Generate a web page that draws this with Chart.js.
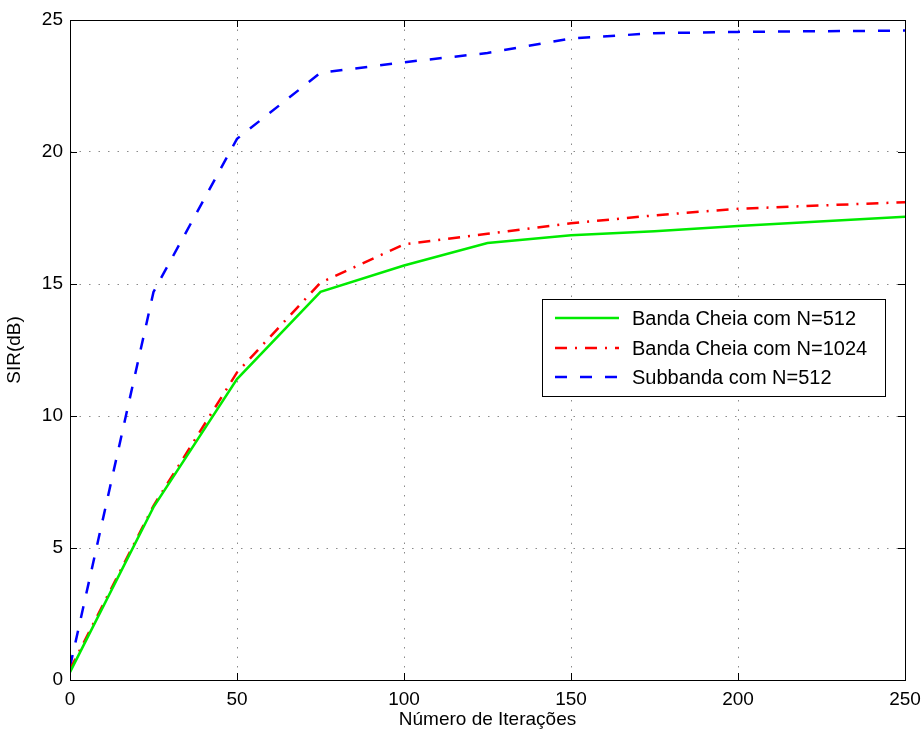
<!DOCTYPE html>
<html>
<head>
<meta charset="utf-8">
<script src="https://cdn.jsdelivr.net/npm/chart.js@4.4.0/dist/chart.umd.min.js"></script>
<style>
  html, body { margin: 0; padding: 0; background: #fff; }
  #wrap { width: 924px; height: 733px; }
</style>
</head>
<body>
<div id="wrap"><canvas id="grafico" width="924" height="733"></canvas></div>
<script>
// dados
const iteracoes = [0, 25, 50, 75, 100, 125, 150, 175, 200, 250];
const cheia512 = [0.3, 6.55, 11.4, 14.7, 15.7, 16.55, 16.85, 17.0, 17.2, 17.55];
const cheia1024 = [0.4, 6.6, 11.65, 15.05, 16.5, 16.9, 17.3, 17.6, 17.85, 18.1];
const subbanda512 = [0.5, 14.7, 20.5, 23.0, 23.4, 23.75, 24.3, 24.5, 24.55, 24.6];
const rotulos = ['Banda Cheia com N=512', 'Banda Cheia com N=1024', 'Subbanda com N=512'];

const fonte = 'Liberation Sans, Arial, Helvetica, sans-serif';

function pontos(ys) {
    return iteracoes.map((x, i) => ({ x: x, y: ys[i] }));
}

// caixa, marcas internas e legenda no estilo MATLAB
const estiloMatlab = {
    id: 'estiloMatlab',
    afterDraw(chart) {
        const c = chart.ctx;
        const a = chart.chartArea;
        const sx = chart.scales.x, sy = chart.scales.y;
        c.save();
        c.strokeStyle = '#000';
        c.lineWidth = 1;
        c.strokeRect(a.left + 0.5, a.top + 0.5, a.right - a.left, a.bottom - a.top);
        const tl = 7;
        c.beginPath();
        sx.ticks.forEach(t => {
            const px = Math.round(sx.getPixelForValue(t.value)) + 0.5;
            c.moveTo(px, a.bottom); c.lineTo(px, a.bottom - tl);
            c.moveTo(px, a.top); c.lineTo(px, a.top + tl);
        });
        sy.ticks.forEach(t => {
            const py = Math.round(sy.getPixelForValue(t.value)) + 0.5;
            c.moveTo(a.left, py); c.lineTo(a.left + tl, py);
            c.moveTo(a.right, py); c.lineTo(a.right - tl, py);
        });
        c.stroke();

        // legenda
        const bx = 542, by = 299, bw = 343, bh = 97;
        c.fillStyle = '#fff';
        c.fillRect(bx, by, bw, bh);
        c.strokeRect(bx + 0.5, by + 0.5, bw, bh);
        const linhas = [318, 348, 377];
        chart.data.datasets.forEach((ds, i) => {
            c.beginPath();
            c.strokeStyle = ds.borderColor;
            c.lineWidth = ds.borderWidth;
            c.setLineDash(ds.borderDash || []);
            c.moveTo(555, linhas[i]);
            c.lineTo(619, linhas[i]);
            c.stroke();
            c.setLineDash([]);
            c.fillStyle = '#000';
            c.font = '20px ' + fonte;
            c.textBaseline = 'middle';
            c.textAlign = 'left';
            c.fillText(ds.label, 632, linhas[i] + 1);
        });
        c.restore();
    }
};

new Chart(document.getElementById('grafico'), {
    type: 'line',
    data: {
        datasets: [{
            label: rotulos[0],
            data: pontos(cheia512),
            borderColor: 'rgb(0,235,0)',
            borderWidth: 2.5,
            pointRadius: 0,
            fill: false,
        }, {
            label: rotulos[1],
            data: pontos(cheia1024),
            borderColor: 'rgb(255,0,0)',
            borderWidth: 2.5,
            borderDash: [12, 8, 2, 8],
            pointRadius: 0,
            fill: false,
        }, {
            label: rotulos[2],
            data: pontos(subbanda512),
            borderColor: 'rgb(0,0,255)',
            borderWidth: 2.5,
            borderDash: [12, 13],
            pointRadius: 0,
            fill: false,
        }]
    },
    options: {
        responsive: false,
        animation: false,
        layout: { padding: { top: 20, right: 19, left: 0, bottom: 0 } },
        plugins: {
            legend: { display: false },
            tooltip: { enabled: false },
        },
        scales: {
            x: {
                type: 'linear',
                min: 0,
                max: 250,
                afterFit(s) { s.height = 53; s.paddingLeft = 0; s.paddingRight = 0; },
                ticks: { stepSize: 50, padding: 8, color: '#000', font: { family: fonte, size: 19 } },
                grid: { color: '#8a8a8a', drawTicks: false, lineWidth: 1 },
                border: { display: false, dash: [1.5, 8] },
                title: {
                    display: true,
                    text: 'Número de Iterações',
                    color: '#000',
                    font: { family: fonte, size: 19 },
                    padding: { top: 0, bottom: 2 },
                },
            },
            y: {
                min: 0,
                max: 25,
                afterFit(s) { s.width = 70; s.paddingTop = 0; s.paddingBottom = 0; },
                ticks: { stepSize: 5, padding: 7, color: '#000', font: { family: fonte, size: 19 } },
                grid: { color: '#8a8a8a', drawTicks: false, lineWidth: 1 },
                border: { display: false, dash: [1.5, 8] },
                title: {
                    display: true,
                    text: 'SIR(dB)',
                    color: '#000',
                    font: { family: fonte, size: 19 },
                    padding: { top: 3, bottom: 0 },
                },
            },
        },
    },
    plugins: [estiloMatlab],
});
</script>
</body>
</html>
